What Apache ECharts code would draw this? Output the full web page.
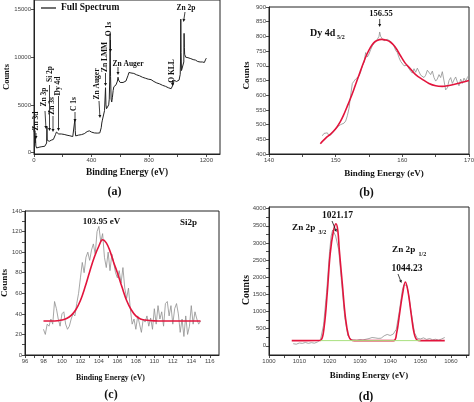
<!DOCTYPE html>
<html><head><meta charset="utf-8">
<script src="https://cdn.jsdelivr.net/npm/echarts@6/dist/echarts.min.js"></script>
<style>html,body{margin:0;padding:0;background:#fff}#c{width:474px;height:402px}</style>
</head><body><div id="c"></div>
<script>
// ---------- Panel (a): full survey spectrum [binding energy, counts] ----------
const aSpectrum = [[0,2200],[2,2500],[4,1400],[6,2300],[8,1000],[10,1700],[13,700],[18,480],[25,520],[35,560],[45,600],[55,620],[65,640],[75,660],[82,700],[86,750],[88,1000],[90,2750],[92,1300],[95,1100],[100,1150],[103,1200],[106,1180],[110,1250],[115,1230],[120,1300],[128,1320],[135,1380],[142,1400],[147,1500],[150,1900],[153,1850],[156,2150],[160,1950],[165,2050],[172,1950],[180,2000],[190,1950],[200,1920],[210,1900],[220,1870],[230,1820],[240,1800],[250,1760],[260,1720],[270,1680],[278,1650],[283,1700],[285,3500],[287,2300],[290,1750],[295,1760],[300,1800],[310,1830],[320,1860],[330,1880],[340,1920],[350,1980],[360,2080],[370,2200],[378,2300],[385,2280],[392,2200],[400,2150],[410,2100],[420,2060],[430,2050],[440,2040],[450,2030],[458,2060],[463,2200],[468,2600],[472,3100],[476,3400],[480,3200],[486,3500],[491,4400],[495,4300],[498,6800],[501,5000],[505,4600],[510,4500],[515,4800],[520,5000],[524,5600],[527,7500],[530,12500],[533,8000],[537,5600],[541,5300],[546,5800],[551,6500],[556,6900],[561,6700],[566,6900],[571,7100],[576,7200],[581,7500],[585,7900],[589,7600],[594,7400],[600,7350],[610,7400],[620,7350],[630,7450],[640,7500],[648,7700],[655,8100],[661,8400],[667,8300],[675,8350],[685,8250],[695,8300],[705,8200],[715,8150],[725,8100],[735,8050],[745,8000],[755,7900],[765,7950],[775,7800],[785,7750],[795,7700],[805,7600],[815,7650],[825,7500],[835,7450],[845,7400],[855,7300],[865,7350],[875,7200],[885,7150],[895,7050],[905,7100],[915,6950],[925,6900],[935,6800],[945,6850],[955,6700],[962,6650],[967,6700],[971,7200],[975,7600],[980,7700],[986,7500],[992,7450],[998,7550],[1004,7500],[1010,7600],[1014,7800],[1018,8200],[1020,9500],[1022,14000],[1024,10500],[1027,8600],[1031,8400],[1035,8500],[1039,8700],[1043,9500],[1045,12500],[1047,11000],[1049,10300],[1052,10100],[1056,10000],[1060,10050],[1066,9900],[1072,9950],[1078,9850],[1085,9800],[1092,9850],[1100,9700],[1108,9750],[1116,9650],[1124,9700],[1132,9600],[1140,9550],[1148,9600],[1156,9500],[1164,9450],[1172,9500],[1180,9400],[1186,9450],[1192,9600],[1196,9800],[1200,9900]];
const aXTicks = [0,200,400,600,800,1000,1200];
const aXLabels = [0,400,800,1200];
const aYTicks = [0,5000,10000,15000];
const aYLabels = [0,5000,10000,15000];

// ---------- Panel (b): Dy 4d ----------
const bData = [[148,462],[148.25,470],[148.5,466],[148.75,472],[149,462],[149.25,458],[149.5,470],[149.75,478],[150,485],[150.25,492],[150.5,496],[150.75,500],[151,497],[151.25,505],[151.5,512],[151.75,530],[152,555],[152.25,600],[152.5,640],[152.75,645],[153,655],[153.25,650],[153.5,665],[153.75,680],[154,700],[154.25,712],[154.5,745],[154.75,730],[155,740],[155.25,755],[155.5,768],[155.75,776],[156,782],[156.25,790],[156.5,800],[156.6,815],[156.75,800],[157,792],[157.25,785],[157.5,780],[157.75,790],[158,792],[158.25,783],[158.5,775],[158.75,768],[159,752],[159.25,745],[159.5,728],[159.75,715],[160,710],[160.25,700],[160.5,695],[160.75,702],[161,690],[161.25,682],[161.5,675],[161.75,690],[162,678],[162.25,692],[162.5,680],[162.75,668],[163,672],[163.25,660],[163.5,668],[163.75,685],[164,690],[164.25,670],[164.5,682],[164.75,660],[165,648],[165.25,655],[165.5,670],[165.75,660],[166,680],[166.25,675],[166.5,618],[166.75,625],[167,650],[167.25,660],[167.5,640],[167.75,652],[168,662],[168.25,645],[168.5,632],[168.75,655],[169,640],[169.25,658],[169.5,648],[169.75,660],[170,668]];
const bFit = [[147.7,435],[148.2,447],[148.7,458],[149.2,467],[149.7,478],[150.2,492],[150.7,510],[151.2,533],[151.7,560],[152.2,588],[152.7,618],[153.2,650],[153.7,681],[154.2,712],[154.7,740],[155.2,762],[155.7,778],[156.2,786],[156.9,790],[157.5,788],[158.2,781],[158.9,765],[159.7,735],[160.4,710],[161.2,690],[162,670],[163,654],[164,640],[165,632],[166,630],[167,633],[168,638],[169,644],[170,650]];
const bXTicks = [140,145,150,155,160,165,170];
const bXLabels = [140,150,160,170];
const bYTicks = [400,450,500,550,600,650,700,750,800,850,900];
const bYLabels = [400,450,500,550,600,650,700,750,800,850,900];

// ---------- Panel (c): Si 2p ----------
const cData = [[98,25],[98.2,20],[98.4,30],[98.6,28],[98.8,35],[99,30],[99.2,52],[99.4,45],[99.6,35],[99.8,28],[100,40],[100.2,42],[100.4,30],[100.6,25],[100.8,28],[101,35],[101.2,40],[101.4,38],[101.6,50],[101.8,60],[102,75],[102.2,90],[102.4,80],[102.6,95],[102.8,100],[103,92],[103.2,102],[103.4,108],[103.6,98],[103.8,120],[104,125],[104.2,110],[104.4,118],[104.6,95],[104.8,85],[105,100],[105.2,82],[105.4,98],[105.6,90],[105.8,80],[106,75],[106.2,82],[106.4,70],[106.6,85],[106.8,65],[107,55],[107.2,65],[107.4,45],[107.6,30],[107.8,35],[108,25],[108.2,38],[108.4,30],[108.6,22],[108.8,35],[109,32],[109.2,38],[109.4,28],[109.6,36],[109.8,25],[110,45],[110.2,30],[110.4,48],[110.6,35],[110.8,42],[111,28],[111.2,50],[111.4,52],[111.6,38],[111.8,48],[112,30],[112.2,45],[112.4,50],[112.6,40],[112.8,22],[113,35],[113.2,18],[113.4,38],[113.6,20],[113.8,28],[114,48],[114.2,30],[114.4,42],[114.6,35],[114.8,30],[115,33]];
const cFit = [[98,33],[99,33],[99.5,33.3],[100,34],[100.5,35.5],[101,38.5],[101.5,44],[102,53],[102.5,66],[103,81],[103.5,95],[104,106],[104.4,112],[104.8,109],[105.2,101],[105.6,90],[106,80],[106.5,66],[107,53],[107.5,44],[108,38],[108.5,35],[109,34],[110,33.2],[111,33],[115,33]];
const cXTicks = [96,97,98,99,100,101,102,103,104,105,106,107,108,109,110,111,112,113,114,115,116];
const cXLabels = [96,98,100,102,104,106,108,110,112,114,116];
const cYTicks = [0,10,20,30,40,50,60,70,80,90,100,110,120,130,140];
const cYLabels = [0,20,40,60,80,100,120,140];

// ---------- Panel (d): Zn 2p ----------
const dData = [[1008,60],[1009,45],[1010,80],[1011,70],[1012,95],[1013,70],[1014,90],[1015,75],[1016,110],[1017,180],[1018,600],[1019,1550],[1020,2750],[1020.5,3200],[1021,3380],[1021.5,3300],[1022,3200],[1022.5,3150],[1023,2800],[1024,1800],[1025,830],[1026,300],[1027,180],[1028,170],[1029,160],[1030,180],[1031,170],[1032,190],[1033,210],[1034,240],[1035,230],[1036,215],[1037,220],[1038,290],[1039,330],[1040,300],[1041,340],[1042,480],[1043,1000],[1044,1620],[1044.5,1780],[1045,1820],[1045.5,1760],[1046,1530],[1047,930],[1048,380],[1049,210],[1050,200],[1051,230],[1052,185],[1053,210],[1054,175],[1055,190],[1056,165],[1057,200],[1058,240]];
const dFit = [[1007.5,150],[1012,150],[1016,152],[1017.2,170],[1018.2,550],[1019.2,1520],[1020.2,2690],[1021.2,3320],[1022.1,3560],[1022.7,3370],[1023.2,2800],[1024.2,1810],[1025.2,845],[1026.2,310],[1027.2,165],[1028.2,150],[1041.1,150],[1042.1,360],[1043.1,940],[1044.1,1520],[1045,1860],[1045.9,1570],[1046.9,940],[1047.9,360],[1048.9,165],[1050,150],[1058,150]];
const dBase = [[1017,150],[1050,150]];
const dXTicks = [1000,1005,1010,1015,1020,1025,1030,1035,1040,1045,1050,1055,1060,1065];
const dXLabels = [1000,1010,1020,1030,1040,1050,1060];
const dYTicks = [0,250,500,750,1000,1250,1500,1750,2000,2250,2500,2750,3000,3250,3500,3750,4000];
const dYLabels = [0,500,1000,1500,2000,2500,3000,3500,4000];

// ---------- styling ----------
const SERIF = '"Liberation Serif","Times New Roman",serif';
const SANS = '"Liberation Sans",Arial,sans-serif';
const GRAY = '#8f8f8f', RED = '#e2143c', DARK = '#222';

function axis(kind, gi, min, max, ticks, labels, name, gap, fs, pad) {
  const a = {
    type: 'value', gridIndex: gi, min: min, max: max, scale: true,
    axisLine: {show: true, onZero: false, lineStyle: {color: '#222', width: 1}},
    axisTick: {show: true, inside: false, length: 3, customValues: ticks, lineStyle: {color: '#222', width: 0.8}},
    axisLabel: {customValues: labels, fontSize: 6, color: '#444', fontFamily: SANS, margin: 3, formatter: v => String(v)},
    splitLine: {show: false}, minorTick: {show: false},
    name: name, nameLocation: 'middle', nameGap: gap, nameMoveOverlap: false,
    nameTextStyle: {fontFamily: SERIF, fontWeight: 'bold', fontSize: fs, color: '#111', padding: pad || 0}
  };
  if (kind === 'y') a.nameRotate = 90;
  return a;
}

function txt(x, y, s, size, rot, align) {
  return {type: 'text', x: x, y: y, rotation: rot || 0, z: 100,
    style: {text: s, font: 'bold ' + size + 'px ' + SERIF, fill: '#111',
      textAlign: align || 'center', textVerticalAlign: 'middle', align: align || 'center', verticalAlign: 'middle'}};
}
function arrow(x1, y1, x2, y2) {
  const dx = x2 - x1, dy = y2 - y1, L = Math.hypot(dx, dy), ux = dx / L, uy = dy / L, h = 3, w = 1.5;
  const bx = x2 - ux * h, by = y2 - uy * h;
  return [
    {type: 'line', z: 100, shape: {x1: x1, y1: y1, x2: bx, y2: by}, style: {stroke: '#111', lineWidth: 0.8}},
    {type: 'polygon', z: 100, shape: {points: [[x2, y2], [bx - uy * w, by + ux * w], [bx + uy * w, by - ux * w]]}, style: {fill: '#111'}}
  ];
}
const R = Math.PI / 2;
const graphics = [
  // panel (a) peak labels
  txt(36, 121, 'Zn 3d', 7.5, R), ...arrow(36, 133, 36, 139),
  txt(44, 97, 'Zn 3p', 7.5, R), ...arrow(45, 111, 46, 129),
  txt(50, 74, 'Si 2p', 7.5, R), ...arrow(49.5, 85, 49.5, 131),
  txt(52.5, 106, 'Zn 3s', 7.5, R), ...arrow(53, 116, 53, 132),
  txt(58.5, 86, 'Dy 4d', 7.5, R), ...arrow(58.5, 96, 58.5, 131),
  txt(74, 104, 'C 1s', 7.5, R), ...arrow(75, 112, 75, 122),
  txt(97, 84, 'Zn Auger', 7.5, R), ...arrow(99, 101, 100, 118),
  txt(105, 57, 'Zn LMM', 7.5, R), ...arrow(105.5, 73, 105.5, 86),
  txt(109, 29, 'O 1s', 7.5, R), ...arrow(110.5, 40, 110.5, 52),
  txt(128, 64, 'Zn Auger', 7.5), ...arrow(118, 67, 118, 75),
  txt(172, 71, 'O KLL', 7.5, R), ...arrow(172.5, 80, 172.5, 86),
  txt(186, 8, 'Zn 2p', 7.5), ...arrow(185, 12, 183.5, 22),
  // panel (b)
  txt(381, 14, '156.55', 8.5), ...arrow(379.7, 19, 379.7, 27),
  txt(310, 33, 'Dy 4d', 10, 0, 'left'), txt(337, 37, '5/2', 6, 0, 'left'),
  // panel (c)
  txt(101.5, 222, '103.95 eV', 9), txt(188.5, 223, 'Si2p', 9),
  // panel (d)
  txt(337.5, 215.5, '1021.17', 9.5),
  txt(292, 228, 'Zn 2p', 9.2, 0, 'left'), txt(318.5, 232.5, '3/2', 6, 0, 'left'),
  ...arrow(332, 221, 336.5, 232),
  txt(392, 250, 'Zn 2p', 9.2, 0, 'left'), txt(418.5, 254, '1/2', 6, 0, 'left'),
  txt(407, 268.5, '1044.23', 9.5), ...arrow(398, 274, 401.5, 283),
  // panel letters
  txt(114.5, 192, '(a)', 12), txt(366.5, 193, '(b)', 12),
  txt(111, 394.5, '(c)', 12), txt(366, 397, '(d)', 12)
];

function line(name, data, gi, color, width, smooth, z) {
  return {type: 'line', name: name, data: data, xAxisIndex: gi, yAxisIndex: gi,
    symbol: 'none', showSymbol: false, smooth: smooth, z: z || 2,
    lineStyle: {color: color, width: width}, itemStyle: {color: color}, emphasis: {disabled: true}};
}

const chart = echarts.init(document.getElementById('c'), null, {renderer: 'canvas'});
chart.setOption({
  animation: false,
  backgroundColor: '#fff',
  grid: [
    {left: 34, top: 0, width: 186, height: 154, show: true, borderColor: '#222', borderWidth: 1, outerBoundsMode: 'none', containLabel: false},
    {left: 269, top: 7, width: 200, height: 147, show: true, borderColor: '#222', borderWidth: 1, outerBoundsMode: 'none', containLabel: false},
    {left: 25, top: 211, width: 194, height: 144, show: true, borderColor: '#222', borderWidth: 1, outerBoundsMode: 'none', containLabel: false},
    {left: 269, top: 207, width: 200, height: 148, show: true, borderColor: '#222', borderWidth: 1, outerBoundsMode: 'none', containLabel: false}
  ],
  xAxis: [
    axis('x', 0, 0, 1295, aXTicks, aXLabels, 'Binding Energy (eV)', 14, 9.3),
    axis('x', 1, 140, 170, bXTicks, bXLabels, 'Binding Energy (eV)', 15, 9, [0, 0, 0, 30]),
    axis('x', 2, 96, 117, cXTicks, cXLabels, 'Binding Energy (eV)', 19, 7.8, [0, 23, 0, 0]),
    axis('x', 3, 1000, 1066, dXTicks, dXLabels, 'Binding Energy (eV)', 16, 8.9)
  ],
  yAxis: [
    axis('y', 0, -150, 16000, aYTicks, aYLabels, 'Counts', 23, 8.5),
    axis('y', 1, 400, 900, bYTicks, bYLabels, 'Counts', 18, 9.2, [0, 0, 0, 10]),
    axis('y', 2, 0, 140, cYTicks, cYLabels, 'Counts', 16, 9.2),
    axis('y', 3, -270, 4050, dYTicks, dYLabels, 'Counts', 18, 9.8, [0, 18, 0, 0])
  ],
  legend: {
    data: ['Full Spectrum'], left: 41, top: 3, padding: 0, icon: 'rect', itemWidth: 15, itemHeight: 1.3,
    textStyle: {fontFamily: SERIF, fontWeight: 'bold', fontSize: 9.5, color: '#111'}
  },
  series: [
    line('Full Spectrum', aSpectrum, 0, DARK, 1, false),
    line('Dy data', bData, 1, GRAY, 0.8, false),
    line('Dy fit', bFit, 1, RED, 1.6, 0.4, 3),
    line('Si data', cData, 2, GRAY, 0.8, false),
    line('Si fit', cFit, 2, RED, 1.6, 0.4, 3),
    line('Zn data', dData, 3, GRAY, 0.8, false),
    line('Zn fit', dFit, 3, RED, 1.6, 0.4, 3),
    line('Zn base', dBase, 3, '#a8e07e', 1, false, 4)
  ],
  graphic: graphics
});
</script>
</body></html>
